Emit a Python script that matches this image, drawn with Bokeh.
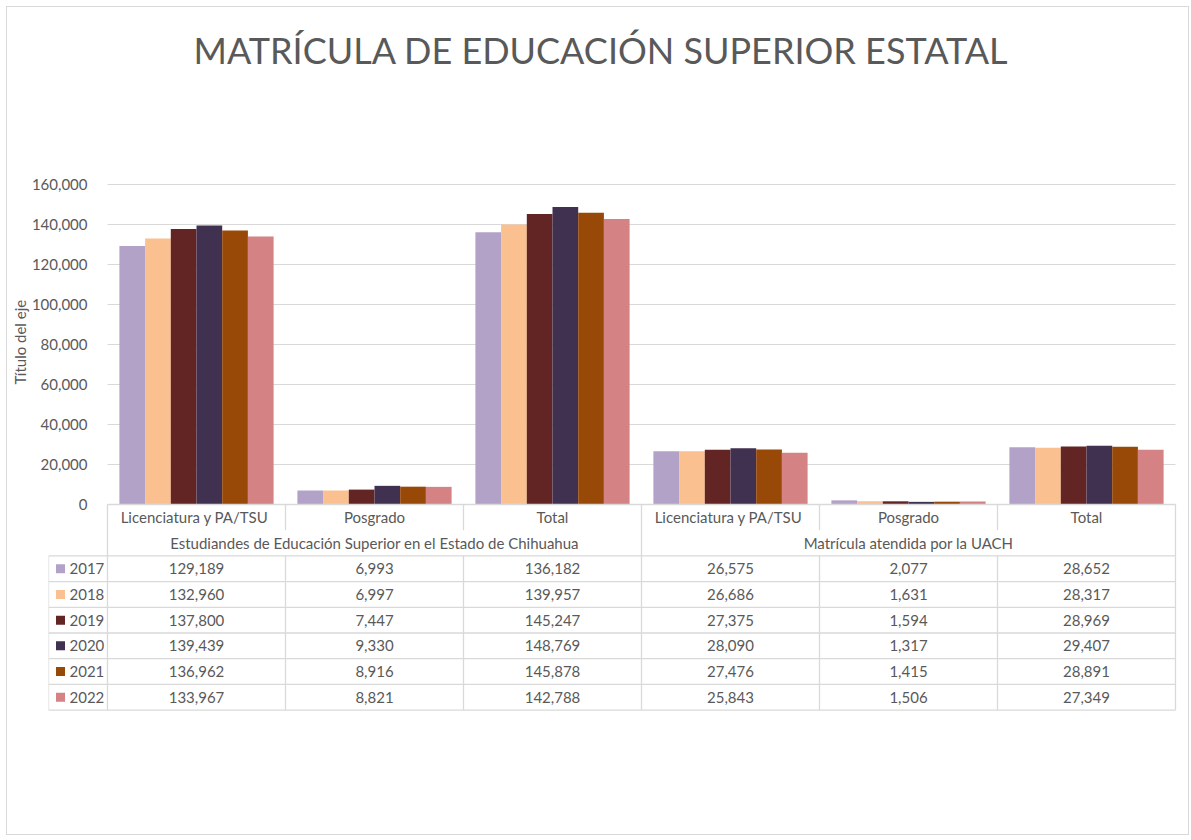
from bokeh.plotting import figure
from bokeh.models import FixedTicker, NumeralTickFormatter, Title
from bokeh.core.properties import value
from bokeh.embed import file_html
from bokeh.resources import INLINE

# ---------------- data ----------------
title_text = "MATRÍCULA DE EDUCACIÓN SUPERIOR ESTATAL"
axis_title = "Título del eje"
categories = ["Licenciatura  y PA/TSU", "Posgrado", "Total",
              "Licenciatura  y PA/TSU", "Posgrado", "Total"]
groups = ["Estudiandes de Educación Superior en el Estado de Chihuahua",
          "Matrícula atendida por la UACH"]
years = ["2017", "2018", "2019", "2020", "2021", "2022"]
v2017 = [129189, 6993, 136182, 26575, 2077, 28652]
v2018 = [132960, 6997, 139957, 26686, 1631, 28317]
v2019 = [137800, 7447, 145247, 27375, 1594, 28969]
v2020 = [139439, 9330, 148769, 28090, 1317, 29407]
v2021 = [136962, 8916, 145878, 27476, 1415, 28891]
v2022 = [133967, 8821, 142788, 25843, 1506, 27349]
series = [v2017, v2018, v2019, v2020, v2021, v2022]
colors = ["#B3A2C7", "#FAC090", "#632523", "#403151", "#984807", "#D48284"]
y_ticks = [0, 20000, 40000, 60000, 80000, 100000, 120000, 140000, 160000]

# ---------------- layout constants ----------------
FONT = "Lato"
TXT = "#595959"
LINE = "#D9D9D9"
CAT_PX = 178.0          # pixels per category
Y_PER_PX = 500.0        # data units per pixel
ROW = 25.7 * Y_PER_PX   # table row height in data units
XL = -59 / CAT_PX       # left edge of the legend column
NCAT = len(categories)
W, H = 1183, 829
MB_LEFT, MB_TOP = 41, 83
frame_w = W - MB_LEFT
frame_h = H - MB_TOP
x_start = XL
x_end = XL + frame_w / CAT_PX
y_end = 414 * Y_PER_PX
y_start = y_end - frame_h * Y_PER_PX

p = figure(width=W, height=H, x_range=(x_start, x_end), y_range=(y_start, y_end),
           output_backend="svg", toolbar_location=None,
           x_axis_location=None, y_axis_location="left",
           min_border_left=MB_LEFT, min_border_right=0,
           min_border_top=MB_TOP, min_border_bottom=0,
           title=title_text)
p.styles = {"border": "1px solid #D9D9D9", "margin": "6px 0 0 6px"}
p.outline_line_color = None
p.grid.visible = False
p.background_fill_color = "white"
p.border_fill_color = "white"

p.title.align = "left"
p.title.offset = 145
p.title.standoff = 37
p.title.text_font = FONT
p.title.text_font_size = "36px"
p.title.text_font_style = "normal"
p.title.text_color = TXT

ax = p.yaxis[0]
ax.ticker = FixedTicker(ticks=y_ticks)
ax.formatter = NumeralTickFormatter(format="0,0")
ax.bounds = (y_ticks[0], y_ticks[-1])
ax.axis_line_color = None
ax.major_tick_line_color = None
ax.minor_tick_line_color = None
ax.major_tick_out = 0
ax.major_label_standoff = -39
ax.major_label_text_font = FONT
ax.major_label_text_font_size = "15px"
ax.major_label_text_color = TXT

# axis title on the left side, placed along the value scale
ax_title = Title(text=axis_title, align="left", offset=(836 - 343) - 41,
                 standoff=0, text_font=FONT, text_font_size="15px",
                 text_font_style="normal", text_color=TXT)
p.add_layout(ax_title, "left")

# gridlines
p.segment(x0=[0] * len(y_ticks), x1=[NCAT] * len(y_ticks), y0=y_ticks, y1=y_ticks,
          line_color=LINE, line_width=1)

# bars
BW = 25.7 / CAT_PX
nser = len(series)
for k, (vals, col) in enumerate(zip(series, colors)):
    xs = [i + 0.5 + (k - (nser - 1) / 2) * BW for i in range(NCAT)]
    p.vbar(x=xs, top=vals, width=BW, bottom=0, fill_color=col, line_color=None)

# ---------------- data table ----------------
hx0, hx1, hy = [0], [NCAT], [0]
for r in range(2, 3 + nser):
    hx0.append(XL); hx1.append(NCAT); hy.append(-r * ROW)
p.segment(x0=hx0, x1=hx1, y0=hy, y1=hy, line_color=LINE, line_width=1.3)

vx, vy0, vy1 = [], [], []
bottom = -(2 + nser) * ROW
vx.append(XL); vy0.append(-2 * ROW); vy1.append(bottom)
for i in range(NCAT + 1):
    if i % 3 == 0:
        vx.append(i); vy0.append(0); vy1.append(bottom)
    else:
        vx.append(i); vy0.append(0); vy1.append(-ROW)
        vx.append(i); vy0.append(-2 * ROW); vy1.append(bottom)
p.segment(x0=vx, x1=vx, y0=vy0, y1=vy1, line_color=LINE, line_width=1.3)

common = dict(text_font=value(FONT), text_font_size="15px", text_color=TXT,
              text_baseline="middle")
p.text(x=[i + 0.5 for i in range(NCAT)], y=[-0.5 * ROW] * NCAT, text=categories,
       text_align="center", **common)
p.text(x=[1.5, 4.5], y=[-1.5 * ROW] * 2, text=groups, text_align="center", **common)
row_y = [-(2.5 + k) * ROW for k in range(nser)]
p.scatter(x=[XL + 12 / CAT_PX] * nser, y=row_y, marker="square", size=9,
          fill_color=colors, line_color=None)
p.text(x=[XL + 21 / CAT_PX] * nser, y=row_y, text=years, text_align="left", **common)
cx, cy, ct = [], [], []
for k, vals in enumerate(series):
    for i, v in enumerate(vals):
        cx.append(i + 0.5); cy.append(row_y[k]); ct.append(f"{v:,}")
p.text(x=cx, y=cy, text=ct, text_align="center", **common)

open("out.html", "w").write(file_html(p, INLINE))
